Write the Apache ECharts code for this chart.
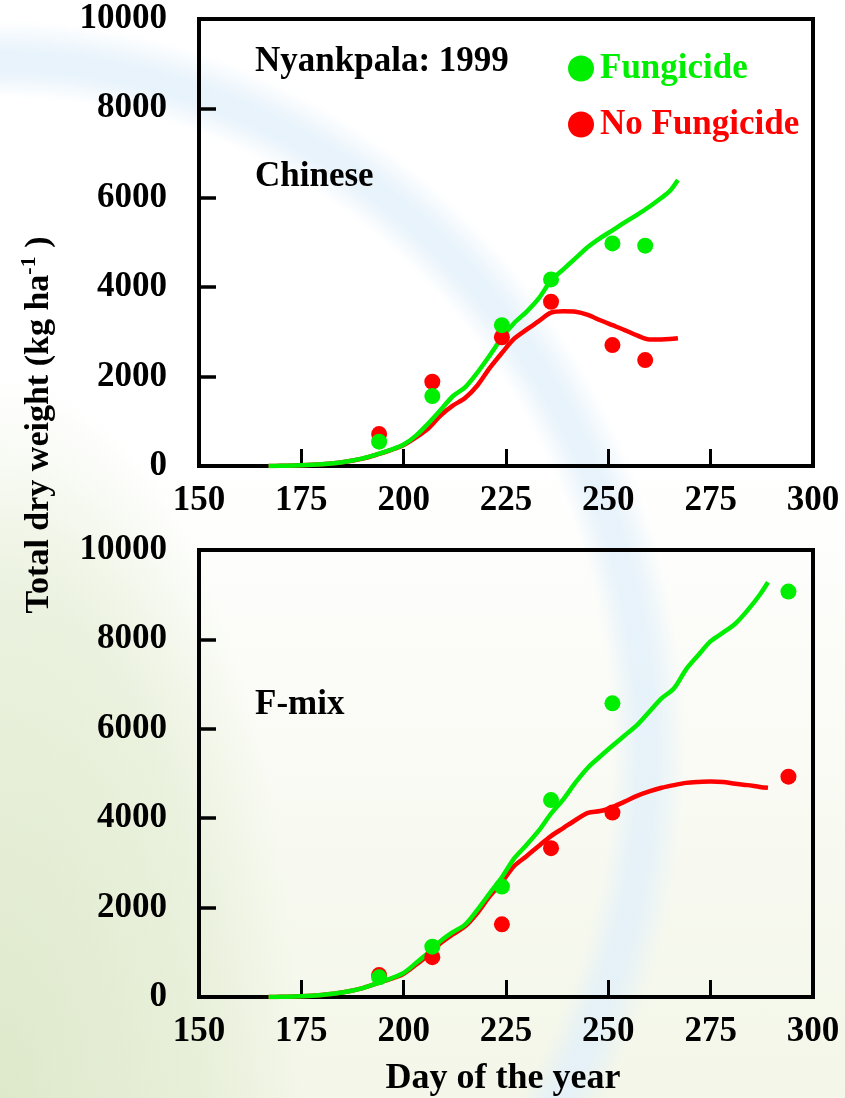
<!DOCTYPE html>
<html>
<head>
<meta charset="utf-8">
<script src="https://cdn.jsdelivr.net/npm/echarts@6/dist/echarts.min.js"></script>
<style>
  html, body { margin: 0; padding: 0; }
  body {
    width: 845px; height: 1098px; overflow: hidden;
    background:
      radial-gradient(ellipse 660px 705px at 0px 752px,
        rgba(255,255,255,0) 612px, rgba(226,240,250,0.8) 638px,
        rgba(226,240,250,0.8) 655px, rgba(255,255,255,0) 685px),
      radial-gradient(ellipse 300px 720px at 0px 1098px,
        rgba(218,231,198,0.85) 0%, rgba(228,237,212,0.7) 70%, rgba(255,255,255,0) 100%),
      linear-gradient(to bottom, #ffffff 0%, #ffffff 42%, #f3f6e8 100%);
  }
  #chart { width: 845px; height: 1098px; }
</style>
</head>
<body>
<div id="chart"></div>
<script>
// Simulated total dry weight (kg/ha) by day of year
const chineseModelDays = [167,170,175,180,185,190,194,197,200,203,206,209,212,215,218,221,224,227,230,233,236,239,242,245,248,251,254,257,260,263,265,267];
const chineseFungModel = [0,5,15,40,85,170,275,365,480,680,950,1250,1560,1760,2090,2470,2870,3200,3450,3750,4150,4400,4650,4900,5100,5270,5450,5620,5800,6000,6150,6400];
const chineseNoFungModel = [0,5,15,40,85,165,270,360,470,640,840,1130,1350,1520,1800,2190,2530,2850,3050,3240,3430,3460,3450,3380,3260,3150,3040,2920,2830,2830,2840,2860];

const fmixModelDays = [167,170,175,180,185,190,194,197,200,203,206,209,212,215,218,221,224,227,230,233,236,239,242,245,248,251,254,257,260,263,266,269,272,275,278,281,284,287,289];
const fmixFungModel = [0,5,15,45,100,200,320,420,540,760,990,1250,1450,1620,1950,2320,2680,3100,3400,3720,4100,4420,4800,5130,5380,5620,5850,6080,6380,6680,6900,7330,7650,7960,8150,8350,8650,9000,9280];
const fmixNoFungModel = [0,5,15,45,100,200,320,410,520,720,940,1200,1400,1580,1880,2250,2570,2930,3150,3380,3600,3780,3960,4120,4160,4250,4370,4500,4600,4680,4740,4790,4810,4820,4810,4770,4740,4700,4680];

// Observed samples
const chineseObsDays = [194,207,224,236,251,259];
const chineseFungObs = [545,1565,3150,4175,4980,4930];
const chineseNoFungObs = [715,1885,2880,3675,2705,2370];

const fmixObsDays = [194,207,224,236,251,294];
const fmixFungObs = [440,1125,2470,4405,6570,9070];
const fmixNoFungObs = [490,890,1625,3330,4125,4930];

const xTicks = { min: 150, max: 300, interval: 25 };
const yTicks = { min: 0, max: 10000, interval: 2000 };

const GREEN = '#00ee00';
const RED = '#ff0000';
const SERIF = '"Liberation Serif", "Times New Roman", serif';

const zip = (xs, ys) => xs.map((x, i) => [x, ys[i]]);

const labelStyle = { fontFamily: SERIF, fontWeight: 'bold', fontSize: 35, color: '#000',
                     formatter: v => String(v) };

function makeGrid(top) {
  return { left: 199, top: top, width: 614, height: 447, show: true,
           borderColor: '#000', borderWidth: 4, backgroundColor: 'transparent' };
}
function makeX(gridIndex) {
  return {
    type: 'value', gridIndex, min: xTicks.min, max: xTicks.max, interval: xTicks.interval,
    axisLine: { lineStyle: { color: '#000', width: 4 } },
    axisTick: { inside: true, length: 17, lineStyle: { color: '#000', width: 3 } },
    axisLabel: Object.assign({ margin: 17 }, labelStyle),
    splitLine: { show: false }
  };
}
function makeY(gridIndex) {
  return {
    type: 'value', gridIndex, min: yTicks.min, max: yTicks.max, interval: yTicks.interval,
    axisLine: { lineStyle: { color: '#000', width: 4 } },
    axisTick: { inside: true, length: 17, lineStyle: { color: '#000', width: 3.5 } },
    axisLabel: Object.assign({ margin: 32 }, labelStyle),
    splitLine: { show: false }
  };
}
function modelLine(name, idx, xs, ys, color) {
  return { name, type: 'line', xAxisIndex: idx, yAxisIndex: idx, data: zip(xs, ys),
           showSymbol: false, smooth: 0.3, lineStyle: { color, width: 4.5 }, itemStyle: { color },
           z: 2, silent: true };
}
function obsPoints(name, idx, xs, ys, color) {
  return { name, type: 'scatter', xAxisIndex: idx, yAxisIndex: idx, data: zip(xs, ys),
           symbol: 'circle', symbolSize: 16, itemStyle: { color, opacity: 1 }, z: 3 };
}

const chart = echarts.init(document.getElementById('chart'), null, { renderer: 'canvas' });
chart.setOption({
  backgroundColor: 'transparent',
  animation: false,
  grid: [makeGrid(19), makeGrid(550)],
  xAxis: [makeX(0), makeX(1)],
  yAxis: [makeY(0), makeY(1)],
  legend: {
    orient: 'vertical', left: 563, top: 46, itemGap: 21,
    itemWidth: 26, itemHeight: 26, icon: 'circle', selectedMode: false,
    textStyle: { fontFamily: SERIF, fontWeight: 'bold', fontSize: 35, padding: [0, 0, 0, 1] },
    data: [
      { name: 'Fungicide', textStyle: { color: GREEN } },
      { name: 'No Fungicide', textStyle: { color: RED } }
    ]
  },
  series: [
    modelLine('No Fungicide model', 0, chineseModelDays, chineseNoFungModel, RED),
    modelLine('Fungicide model', 0, chineseModelDays, chineseFungModel, GREEN),
    obsPoints('No Fungicide', 0, chineseObsDays, chineseNoFungObs, RED),
    obsPoints('Fungicide', 0, chineseObsDays, chineseFungObs, GREEN),
    modelLine('No Fungicide model', 1, fmixModelDays, fmixNoFungModel, RED),
    modelLine('Fungicide model', 1, fmixModelDays, fmixFungModel, GREEN),
    obsPoints('No Fungicide', 1, fmixObsDays, fmixNoFungObs, RED),
    obsPoints('Fungicide', 1, fmixObsDays, fmixFungObs, GREEN)
  ],
  graphic: [
    { type: 'text', x: 255, y: 62, style: { text: 'Nyankpala: 1999', fill: '#000',
      font: 'bold 35px ' + SERIF, align: 'left', verticalAlign: 'middle' } },
    { type: 'text', x: 255, y: 177, style: { text: 'Chinese', fill: '#000',
      font: 'bold 35px ' + SERIF, align: 'left', verticalAlign: 'middle' } },
    { type: 'text', x: 255, y: 705, style: { text: 'F-mix', fill: '#000',
      font: 'bold 35px ' + SERIF, align: 'left', verticalAlign: 'middle' } },
    { type: 'text', x: 503, y: 1079, style: { text: 'Day of the year', fill: '#000',
      font: 'bold 36px ' + SERIF, align: 'center', verticalAlign: 'middle' } },
    { type: 'text', x: 39, y: 425, rotation: Math.PI / 2,
      style: {
        text: 'Total dry weight (kg ha{sup|-1} )', fill: '#000',
        fontFamily: SERIF, fontWeight: 'bold', fontSize: 34,
        align: 'center', verticalAlign: 'middle',
        rich: { sup: { fontFamily: SERIF, fontWeight: 'bold', fontSize: 22, fill: '#000', padding: [0, 0, 20, 0] } }
      } }
  ]
});
</script>
</body>
</html>
